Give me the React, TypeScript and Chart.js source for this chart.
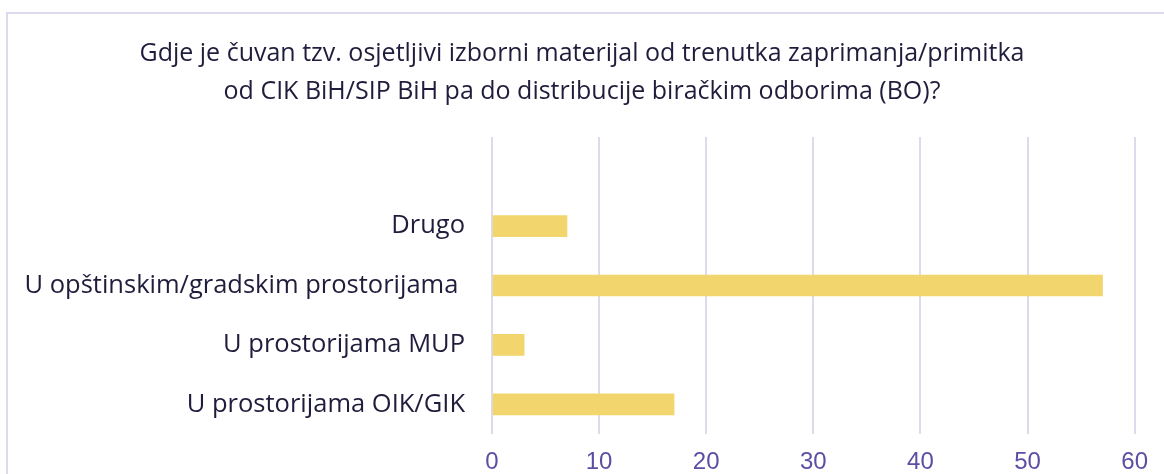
import React, { useEffect, useRef } from "react";
import { Chart, registerables } from "chart.js";

Chart.register(...registerables);

const titleLines = [
  "Gdje je čuvan tzv. osjetljivi izborni materijal od trenutka zaprimanja/primitka",
  "od CIK BiH/SIP BiH pa do distribucije biračkim odborima (BO)?",
];

// leading empty category reproduces the blank band at the top of the plot
const categories = [
  "",
  "Drugo",
  "U opštinskim/gradskim prostorijama ",
  "U prostorijama MUP",
  "U prostorijama OIK/GIK",
];
const values = [null, 7, 57, 3, 17];

const xMin = 0;
const xMax = 60;
const xStep = 10;

export default function App() {
  const ref = useRef<HTMLCanvasElement | null>(null);

  useEffect(() => {
    if (!ref.current) return;
    const chart = new Chart(ref.current, {
      type: "bar",
      data: {
        labels: categories,
        datasets: [
          {
            data: values as any,
            backgroundColor: "#F3D56D",
            borderWidth: 0,
            barThickness: 21,
            yAxisID: "y",
          },
        ],
      },
      options: {
        indexAxis: "y",
        responsive: false,
        animation: false,
        layout: { padding: 0 },
        plugins: {
          legend: { display: false },
          tooltip: { enabled: false },
          title: {
            display: true,
            text: titleLines,
            color: "#1f1d3b",
            font: { family: "'Open Sans', sans-serif", size: 25, weight: "normal", lineHeight: 1.52 },
            padding: { top: 35, bottom: 26 },
          },
        },
        scales: {
          x: {
            min: xMin,
            max: xMax,
            afterFit: (scale: any) => {
              scale.height = 40;
            },
            ticks: {
              stepSize: xStep,
              color: "#5b4fa3",
              font: { family: "'Liberation Sans', Arial, sans-serif", size: 24, lineHeight: 1 },
              padding: 16,
            },
            grid: { color: "#dddaee", lineWidth: 2, drawTicks: false },
            border: { display: false },
          },
          y: {
            afterFit: (scale: any) => {
              scale.width = 492;
              scale.paddingTop = 0;
              scale.paddingBottom = 0;
            },
            ticks: {
              color: "#1f1d3b",
              font: { family: "'Open Sans', sans-serif", size: 25.5 },
              padding: 27,
            },
            grid: { display: false, drawTicks: false },
            border: { display: false },
          },
          yRight: {
            type: "category",
            position: "right",
            labels: categories,
            afterFit: (scale: any) => {
              scale.width = 23;
              scale.paddingTop = 0;
              scale.paddingBottom = 0;
            },
            ticks: { display: false },
            grid: { display: false, drawTicks: false },
            border: { display: false },
          },
        },
      },
    });
    return () => chart.destroy();
  }, []);

  return (
    <div
      style={{
        position: "fixed",
        left: 0,
        top: 0,
        width: 1164,
        height: 474,
        overflow: "hidden",
        background: "#ffffff",
      }}
    >
      <div
        style={{
          position: "absolute",
          left: 6,
          top: 12,
          width: 1300,
          height: 600,
          border: "2px solid #dddaee",
          boxSizing: "border-box",
        }}
      />
      <canvas
        ref={ref}
        width={1164}
        height={474}
        style={{ position: "absolute", left: 0, top: 0 }}
      />
    </div>
  );
}
